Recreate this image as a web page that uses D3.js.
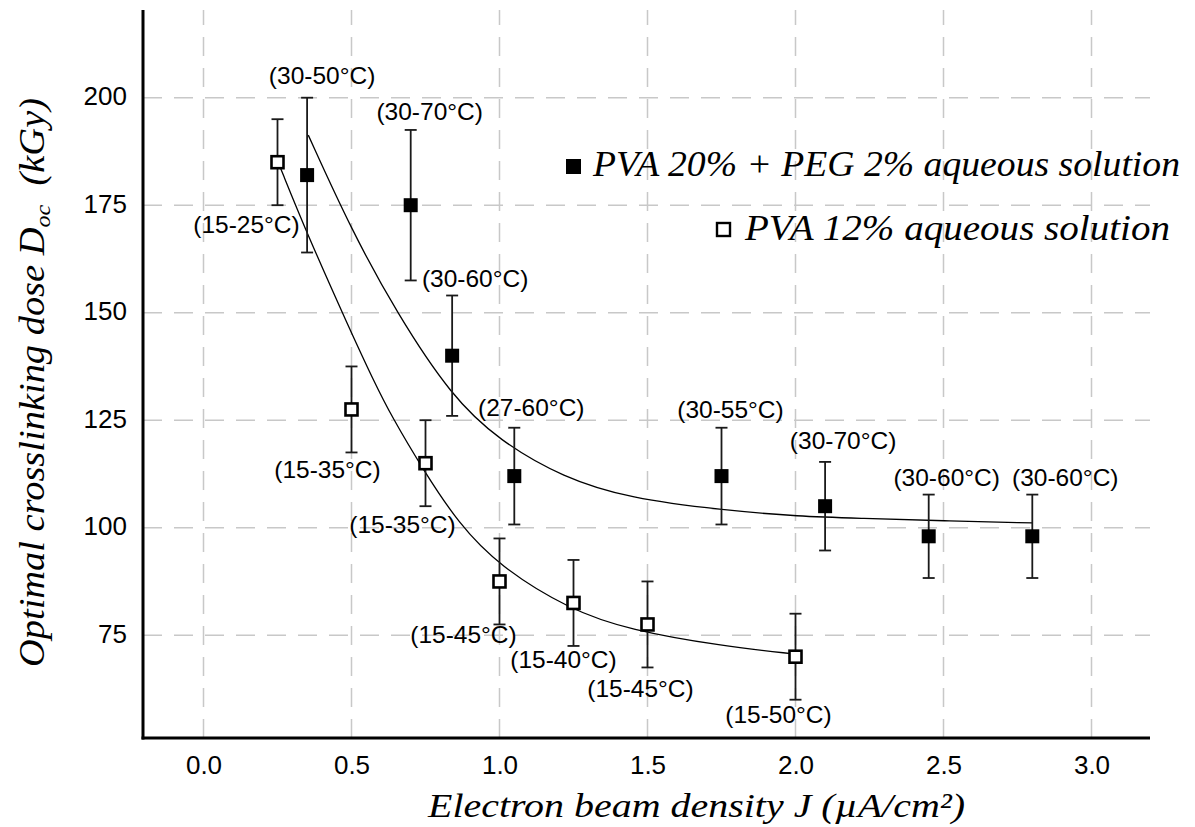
<!DOCTYPE html>
<html>
<head>
<meta charset="utf-8">
<script src="https://cdn.jsdelivr.net/npm/d3@7"></script>
<style>
  body { margin: 0; background: #fff; }
  .tick text { font-family: "Liberation Sans", Arial, sans-serif; font-size: 26px; fill: #000; }
  .temp { font-family: "Liberation Sans", Arial, sans-serif; font-size: 24.5px; fill: #000; }
  .title { font-family: "Liberation Serif", "Times New Roman", serif; font-style: italic; fill: #000; }
</style>
</head>
<body>
<div id="chart"></div>
<script>
//////////
// DATA //
//////////

// PVA 20% + PEG 2% aqueous solution (filled squares)
var pegJ    = [0.35, 0.70, 0.84, 1.05, 1.75, 2.10, 2.45, 2.80];
var pegDose = [182, 175, 140, 112, 112, 105, 98, 98];
var pegErr  = [18, 17.5, 14, 11.25, 11.25, 10.3, 9.7, 9.7];
var pegTemp = ["(30-50°C)", "(30-70°C)", "(30-60°C)", "(27-60°C)", "(30-55°C)", "(30-70°C)", "(30-60°C)", "(30-60°C)"];

// PVA 12% aqueous solution (open squares)
var pvaJ    = [0.25, 0.50, 0.75, 1.00, 1.25, 1.50, 2.00];
var pvaDose = [185, 127.5, 115, 87.5, 82.5, 77.5, 70];
var pvaErr  = [10, 10, 10, 10, 10, 10, 10];
var pvaTemp = ["(15-25°C)", "(15-35°C)", "(15-35°C)", "(15-45°C)", "(15-40°C)", "(15-45°C)", "(15-50°C)"];

// fitted curves
var pegFitJ    = [0.354, 0.50, 0.653, 0.838, 1.00, 1.216, 1.441, 1.751, 2.015, 2.218, 2.50, 2.80];
var pegFitDose = [191.3, 169.2, 149.9, 130.5, 120.2, 111.6, 106.8, 104.1, 102.6, 102.2, 101.6, 101.1];
var pvaFitJ    = [0.258, 0.349, 0.495, 0.574, 0.636, 0.743, 0.861, 1.00, 1.238, 1.441, 1.75, 2.00];
var pvaFitDose = [184.0, 168.5, 146.0, 134.3, 125.8, 113.4, 101.0, 91.0, 80.9, 76.2, 72.5, 70.6];

var xTicks = [0, 0.5, 1.0, 1.5, 2.0, 2.5, 3.0];
var yTicks = [75, 100, 125, 150, 175, 200];

var legendNames = ["PVA 20% + PEG 2% aqueous solution", "PVA 12% aqueous solution"];

// label offsets from the marker (pixels) - layout only
var pegLabelOff = [[15, -91], [19, -85], [23, -69], [17, -60], [9, -58], [18, -57], [18, -50], [33, -50]];
var pvaLabelOff = [[-31, 71], [-24, 69], [-23, 70], [-36, 62], [-10, 65], [-7, 73], [-17, 66]];

//////////////////////////////
// SVG AND GRAPH DIMENSIONS //
//////////////////////////////

var svgWidth = 1195, svgHeight = 827;
var plot = { left: 143, right: 1150, top: 10, bottom: 738 };

var svg = d3.select("#chart").append("svg")
  .attr("width", svgWidth)
  .attr("height", svgHeight);

var x = d3.scaleLinear().domain([0, 3]).range([203.5, 1091.5]);
var y = d3.scaleLinear().domain([75, 200]).range([635.2, 97.7]);

//////////
// GRID //
//////////

var grid = svg.append("g")
  .attr("stroke", "#c8c8c8")
  .attr("stroke-width", 1.5)
  .attr("stroke-dasharray", "19,12");

grid.selectAll(".vgrid")
  .data(xTicks)
  .enter().append("line")
  .attr("x1", function (d) { return x(d); })
  .attr("x2", function (d) { return x(d); })
  .attr("y1", plot.bottom)
  .attr("y2", plot.top);

grid.selectAll(".hgrid")
  .data(yTicks)
  .enter().append("line")
  .attr("x1", plot.left)
  .attr("x2", plot.right)
  .attr("y1", function (d) { return y(d); })
  .attr("y2", function (d) { return y(d); });

//////////
// AXES //
//////////

var xAxis = d3.axisBottom(x).tickValues(xTicks).tickSize(0).tickPadding(18)
  .tickFormat(d3.format(".1f"));
var yAxis = d3.axisLeft(y).tickValues(yTicks).tickSize(0).tickPadding(16);

svg.append("g")
  .attr("transform", "translate(0," + plot.bottom + ")")
  .call(xAxis)
  .call(function (g) { g.select(".domain").remove(); });

svg.append("g")
  .attr("transform", "translate(" + plot.left + ",0)")
  .call(yAxis)
  .call(function (g) { g.select(".domain").remove(); })
  .selectAll("text").attr("dy", "0.28em");

svg.append("line")
  .attr("x1", plot.left).attr("x2", plot.left)
  .attr("y1", plot.top).attr("y2", plot.bottom + 1.5)
  .attr("stroke", "#000").attr("stroke-width", 3);

svg.append("line")
  .attr("x1", plot.left - 1.5).attr("x2", plot.right)
  .attr("y1", plot.bottom).attr("y2", plot.bottom)
  .attr("stroke", "#000").attr("stroke-width", 3);

// axis titles (stretched to the width the original font takes)
svg.append("text")
  .attr("class", "title")
  .attr("x", 696.5)
  .attr("y", 817)
  .attr("text-anchor", "middle")
  .attr("textLength", 537)
  .attr("lengthAdjust", "spacingAndGlyphs")
  .style("font-size", "34px")
  .text("Electron beam density J (µA/cm²)");

var yt = svg.append("text")
  .attr("class", "title")
  .attr("transform", "translate(44,382.5) rotate(-90)")
  .attr("text-anchor", "middle")
  .attr("textLength", 569)
  .attr("lengthAdjust", "spacingAndGlyphs")
  .style("font-size", "35px");
yt.append("tspan").text("Optimal crosslinking dose D");
yt.append("tspan").attr("dy", 6).style("font-size", "22px").text("oc");
yt.append("tspan").attr("dy", -6).text("\u00a0\u00a0(kGy)");

////////////
// CURVES //
////////////

var line = d3.line()
  .x(function (d) { return x(d[0]); })
  .y(function (d) { return y(d[1]); })
  .curve(d3.curveBasis);

svg.append("path")
  .datum(d3.zip(pegFitJ, pegFitDose))
  .attr("d", line)
  .attr("fill", "none").attr("stroke", "#000").attr("stroke-width", 1.3);

svg.append("path")
  .datum(d3.zip(pvaFitJ, pvaFitDose))
  .attr("d", line)
  .attr("fill", "none").attr("stroke", "#000").attr("stroke-width", 1.3);

/////////////////////////
// POINTS + ERROR BARS //
/////////////////////////

function drawSeries(J, dose, err, temps, offs, filled) {
  var data = J.map(function (j, i) {
    return { j: j, v: dose[i], e: err[i], t: temps[i], off: offs[i] };
  });
  var g = svg.append("g");

  var eb = g.selectAll(".eb").data(data).enter().append("g")
    .attr("stroke", "#1a1a1a").attr("stroke-width", 1.8);
  eb.append("line")
    .attr("x1", function (d) { return x(d.j); })
    .attr("x2", function (d) { return x(d.j); })
    .attr("y1", function (d) { return y(d.v + d.e); })
    .attr("y2", function (d) { return y(d.v - d.e); });
  [1, -1].forEach(function (s) {
    eb.append("line")
      .attr("x1", function (d) { return x(d.j) - 6; })
      .attr("x2", function (d) { return x(d.j) + 6; })
      .attr("y1", function (d) { return y(d.v + s * d.e); })
      .attr("y2", function (d) { return y(d.v + s * d.e); });
  });

  g.selectAll(".pt").data(data).enter().append("rect")
    .attr("x", function (d) { return x(d.j) - (filled ? 7 : 6); })
    .attr("y", function (d) { return y(d.v) - (filled ? 7 : 6); })
    .attr("width", filled ? 14 : 12)
    .attr("height", filled ? 14 : 12)
    .attr("fill", filled ? "#000" : "#fff")
    .attr("stroke", "#000")
    .attr("stroke-width", filled ? 0 : 2.6);

  g.selectAll(".temp").data(data).enter().append("text")
    .attr("class", "temp")
    .attr("text-anchor", "middle")
    .attr("x", function (d) { return x(d.j) + d.off[0]; })
    .attr("y", function (d) { return y(d.v) + d.off[1]; })
    .text(function (d) { return d.t; });
}

drawSeries(pegJ, pegDose, pegErr, pegTemp, pegLabelOff, true);
drawSeries(pvaJ, pvaDose, pvaErr, pvaTemp, pvaLabelOff, false);

////////////
// LEGEND //
////////////

var legendPos = [[573, 166, 593, 176, 587], [724, 230, 745, 240, 425]];

legendNames.forEach(function (name, i) {
  var p = legendPos[i];
  svg.append("rect")
    .attr("x", p[0] - 7).attr("y", p[1] - 7)
    .attr("width", i === 0 ? 15 : 13).attr("height", i === 0 ? 15 : 13)
    .attr("fill", i === 0 ? "#000" : "#fff")
    .attr("stroke", "#000").attr("stroke-width", i === 0 ? 0 : 2.4);
  svg.append("text")
    .attr("class", "title")
    .attr("x", p[2]).attr("y", p[3])
    .attr("textLength", p[4])
    .attr("lengthAdjust", "spacingAndGlyphs")
    .style("font-size", "35px")
    .text(name);
});
</script>
</body>
</html>
